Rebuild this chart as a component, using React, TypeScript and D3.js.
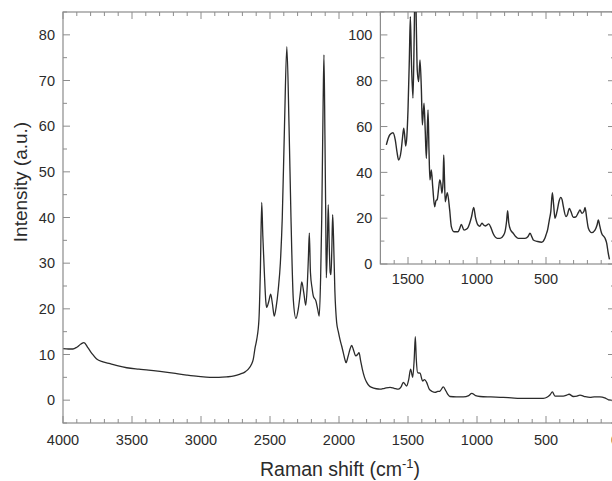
import React from "react";
import * as d3 from "d3";

// main spectrum (wavenumber in cm-1, intensity a.u.)
const mainShift = [
  4000, 3960, 3928, 3900, 3870, 3848, 3820, 3790, 3756, 3710, 3659, 3600, 3538, 3450, 3380, 3297,
  3200, 3104, 3020, 2935, 2870, 2814, 2760, 2717, 2680, 2657, 2635, 2621, 2608, 2596, 2580, 2570,
  2560, 2552, 2541, 2530, 2524, 2510, 2495, 2482, 2469, 2455, 2440, 2425, 2411, 2395, 2378, 2362,
  2348, 2331, 2312, 2295, 2280, 2270, 2255, 2241, 2230, 2222, 2215, 2207, 2195, 2186, 2167, 2155,
  2143, 2133, 2125, 2115, 2109, 2102, 2096, 2092, 2085, 2078, 2070, 2064, 2058, 2052, 2046, 2040,
  2030, 2017, 2005, 1993, 1980, 1969, 1958, 1949, 1935, 1920, 1908, 1895, 1879, 1865, 1855, 1843,
  1831, 1815, 1799, 1780, 1763, 1730, 1703, 1670, 1630, 1600, 1570, 1550, 1534, 1510, 1495, 1481,
  1466, 1455, 1447, 1440, 1430, 1413, 1394, 1380, 1365, 1346, 1325, 1304, 1285, 1268, 1244, 1225,
  1210, 1196, 1150, 1099, 1060, 1038, 1010, 978, 900, 809, 750, 688, 600, 520, 490, 470,
  454, 435, 400, 375, 350, 333, 302, 275, 254, 220, 181, 150, 109, 75, 49, 20, 0,
];
const mainIntensity = [
  11.3, 11.2, 11.2, 11.6, 12.3, 12.6, 11.5, 10.2, 9.0, 8.4, 8.0, 7.5, 7.1, 6.8, 6.6, 6.3,
  5.9, 5.5, 5.2, 5.0, 5.0, 5.1, 5.3, 5.7, 6.2, 6.8, 7.8, 9.0, 11.5, 13.3, 17.7, 28,
  43.3, 36, 28, 21.5, 20.3, 21.5, 23.2, 21, 18.4, 20.5, 24.3, 30, 40, 60, 77.4, 60,
  40, 22, 17.9, 20, 23.5, 25.9, 23.5, 20.8, 25, 31, 36.6, 28, 24.5, 22.8, 21.7, 20,
  18.4, 27, 40, 65, 75.6, 58, 40, 26.8, 33, 42.8, 33, 28, 27.5, 33, 40.6, 36,
  24, 17, 15, 13.3, 11.8, 10.4, 9.0, 8.2, 9.5, 11.2, 12.0, 11.0, 9.7, 10.0, 10.4, 8.6,
  6.8, 5.0, 3.9, 3.1, 2.8, 2.5, 2.4, 2.6, 2.8, 2.6, 2.4, 2.9, 3.9, 3.1, 4.5, 6.8,
  5.0, 9, 13.9, 9, 6.0, 5.9, 4.2, 4.5, 3.9, 2.4, 1.9, 1.7, 1.9, 2.0, 2.9, 2.0,
  1.2, 0.8, 0.7, 0.7, 1.0, 1.5, 1.0, 0.8, 0.7, 0.6, 0.5, 0.4, 0.4, 0.4, 0.7, 1.2,
  1.8, 0.9, 0.9, 0.9, 1.1, 1.3, 0.8, 0.9, 1.1, 0.8, 0.6, 0.7, 0.7, 0.5, 0.1, -0.1, -0.2,
];

// inset spectrum
const insetShift = [
  1657, 1633, 1609, 1592, 1580, 1568, 1549, 1540, 1531, 1524, 1517, 1508, 1500, 1490, 1483, 1475,
  1464, 1455, 1447, 1440, 1433, 1423, 1413, 1403, 1396, 1384, 1375, 1367, 1355, 1348, 1341, 1331,
  1320, 1307, 1298, 1288, 1278, 1270, 1262, 1254, 1246, 1241, 1236, 1230, 1215, 1198, 1186, 1167,
  1138, 1125, 1114, 1094, 1070, 1053, 1040, 1024, 1010, 993, 980, 964, 952, 940, 928, 915,
  900, 884, 853, 833, 808, 797, 785, 778, 770, 756, 737, 720, 701, 652, 630, 616,
  600, 592, 560, 531, 510, 500, 488, 476, 465, 454, 445, 435, 420, 405, 393, 383,
  374, 355, 345, 331, 320, 302, 285, 265, 254, 239, 225, 217, 205, 193, 169, 145,
  130, 121, 110, 97, 72, 60, 49, 40,
];
const insetIntensity = [
  52, 56.3, 57.3, 54.1, 49, 45.4, 49.8, 55, 59.3, 56, 51.5, 56, 67.2, 90, 108, 88,
  72.4, 100, 130, 105, 84.7, 79.6, 89.1, 76, 60.7, 70.2, 58, 46.1, 67.2, 50, 36.7, 41,
  33, 25, 27.5, 28.2, 33, 36.7, 35, 30.9, 36, 47.6, 38, 27.2, 31.1, 23.6, 16.3, 14.1,
  14.1, 15.5, 17.3, 14.8, 15.5, 17.8, 20.5, 24.7, 20, 17, 16.5, 17.8, 17, 16.6, 17, 17.5,
  16, 13.4, 11.2, 11.2, 12.5, 14.1, 19, 23.3, 18, 14.8, 13.4, 12, 11.2, 11.2, 12, 13.4,
  11.5, 10.5, 9.8, 9.5, 11, 12.7, 15, 19.2, 23, 31.1, 26, 20, 23, 27.5, 29.1, 28,
  25, 20.7, 21.5, 24.3, 23, 20.4, 20.5, 22.5, 23.6, 22.1, 23, 24.7, 20, 15.6, 13.7, 14.8,
  17, 19.2, 16.5, 13.4, 11.2, 9, 4.7, 2,
];

const mainXLabels = [4000, 3500, 3000, 2500, 2000, 1500, 1000, 500, 0];
const mainYLabels = [0, 10, 20, 30, 40, 50, 60, 70, 80];
const insetXLabels = [1500, 1000, 500];
const insetYLabels = [0, 20, 40, 60, 80, 100];

const frame = "#8c8c8c";
const ink = "#2b2b2b";
const font = "'Liberation Sans', Arial, Helvetica, sans-serif";

export default function App() {
  const left = 63;
  const right = 615;
  const top = 12;
  const bottom = 423;
  const insetBottom = 264;

  const x = d3.scaleLinear().domain([4000, 0]).range([left, right]);
  const y = d3.scaleLinear().domain([-5, 85]).range([bottom, top]);
  const insetLeft = x(1700);
  const yi = d3.scaleLinear().domain([0, 110]).range([insetBottom, top]);

  const mainLine = d3
    .line<number>()
    .x((_, i) => x(mainShift[i]))
    .y((d) => y(d))
    .curve(d3.curveMonotoneX);
  const insetLine = d3
    .line<number>()
    .x((_, i) => x(insetShift[i]))
    .y((d) => yi(d))
    .curve(d3.curveMonotoneX);

  const xTicks = d3.range(0, 4001, 100);
  const yTicks = d3.range(-5, 86, 5);
  const insetXTicks = d3.range(0, 1701, 100);
  const insetYTicks = d3.range(0, 111, 10);

  return (
    <svg
      width={612}
      height={481}
      style={{ position: "absolute", left: 0, top: 0, background: "#fff" }}
      fontFamily={font}
    >
      <defs>
        <clipPath id="insetClip">
          <rect x={insetLeft} y={top} width={right - insetLeft} height={insetBottom - top} />
        </clipPath>
      </defs>

      {/* main curve */}
      <path d={mainLine(mainIntensity) ?? ""} fill="none" stroke={ink} strokeWidth={1.3} />

      {/* main frame + ticks */}
      <rect x={left} y={top} width={right - left} height={bottom - top} fill="none" stroke={frame} strokeWidth={1.2} />
      {xTicks.map((t) => {
        const len = t % 500 === 0 ? 7 : 4;
        return (
          <g key={"xt" + t} stroke={frame} strokeWidth={1}>
            <line x1={x(t)} x2={x(t)} y1={bottom} y2={bottom - len} />
            <line x1={x(t)} x2={x(t)} y1={top} y2={top + len} />
          </g>
        );
      })}
      {yTicks.map((t) => {
        const len = t % 10 === 0 ? 7 : 4;
        return (
          <g key={"yt" + t} stroke={frame} strokeWidth={1}>
            <line x1={left} x2={left + len} y1={y(t)} y2={y(t)} />
            {y(t) > insetBottom && <line x1={right} x2={right - len} y1={y(t)} y2={y(t)} />}
          </g>
        );
      })}
      {mainXLabels.map((t) => (
        <text key={"xl" + t} x={x(t)} y={445} textAnchor="middle" fontSize={14.5} fill={ink}>
          {t}
        </text>
      ))}
      {mainYLabels.map((t) => (
        <text key={"yl" + t} x={55} y={y(t)} dy="0.36em" textAnchor="end" fontSize={14.5} fill={ink}>
          {t}
        </text>
      ))}

      {/* inset */}
      <rect x={insetLeft} y={top} width={right - insetLeft} height={insetBottom - top} fill="#fff" stroke={frame} strokeWidth={1.2} />
      <g clipPath="url(#insetClip)">
        <path d={insetLine(insetIntensity) ?? ""} fill="none" stroke={ink} strokeWidth={1.4} />
      </g>
      {insetXTicks.map((t) => {
        const len = t % 500 === 0 ? 7 : 4;
        return (
          <g key={"ixt" + t} stroke={frame} strokeWidth={1}>
            <line x1={x(t)} x2={x(t)} y1={insetBottom} y2={insetBottom - len} />
            <line x1={x(t)} x2={x(t)} y1={top} y2={top + len} />
          </g>
        );
      })}
      {insetYTicks.map((t) => {
        const len = t % 20 === 0 ? 7 : 4;
        return (
          <g key={"iyt" + t} stroke={frame} strokeWidth={1}>
            <line x1={insetLeft} x2={insetLeft + len} y1={yi(t)} y2={yi(t)} />
            <line x1={right} x2={right - len} y1={yi(t)} y2={yi(t)} />
          </g>
        );
      })}
      {insetXLabels.map((t) => (
        <text key={"ixl" + t} x={x(t)} y={284} textAnchor="middle" fontSize={14.5} fill={ink}>
          {t}
        </text>
      ))}
      {insetYLabels.map((t) => (
        <text key={"iyl" + t} x={insetLeft - 8} y={yi(t)} dy="0.36em" textAnchor="end" fontSize={14.5} fill={ink}>
          {t}
        </text>
      ))}

      {/* axis titles */}
      <text
        transform={`translate(27, 182) rotate(-90)`}
        textAnchor="middle"
        fontSize={19}
        fill={ink}
      >
        Intensity (a.u.)
      </text>
      <text x={340} y={476} textAnchor="middle" fontSize={19.5} fill={ink}>
        Raman shift (cm
        <tspan fontSize={13} dy={-8}>-1</tspan>
        <tspan dy={8}>)</tspan>
      </text>
    </svg>
  );
}
